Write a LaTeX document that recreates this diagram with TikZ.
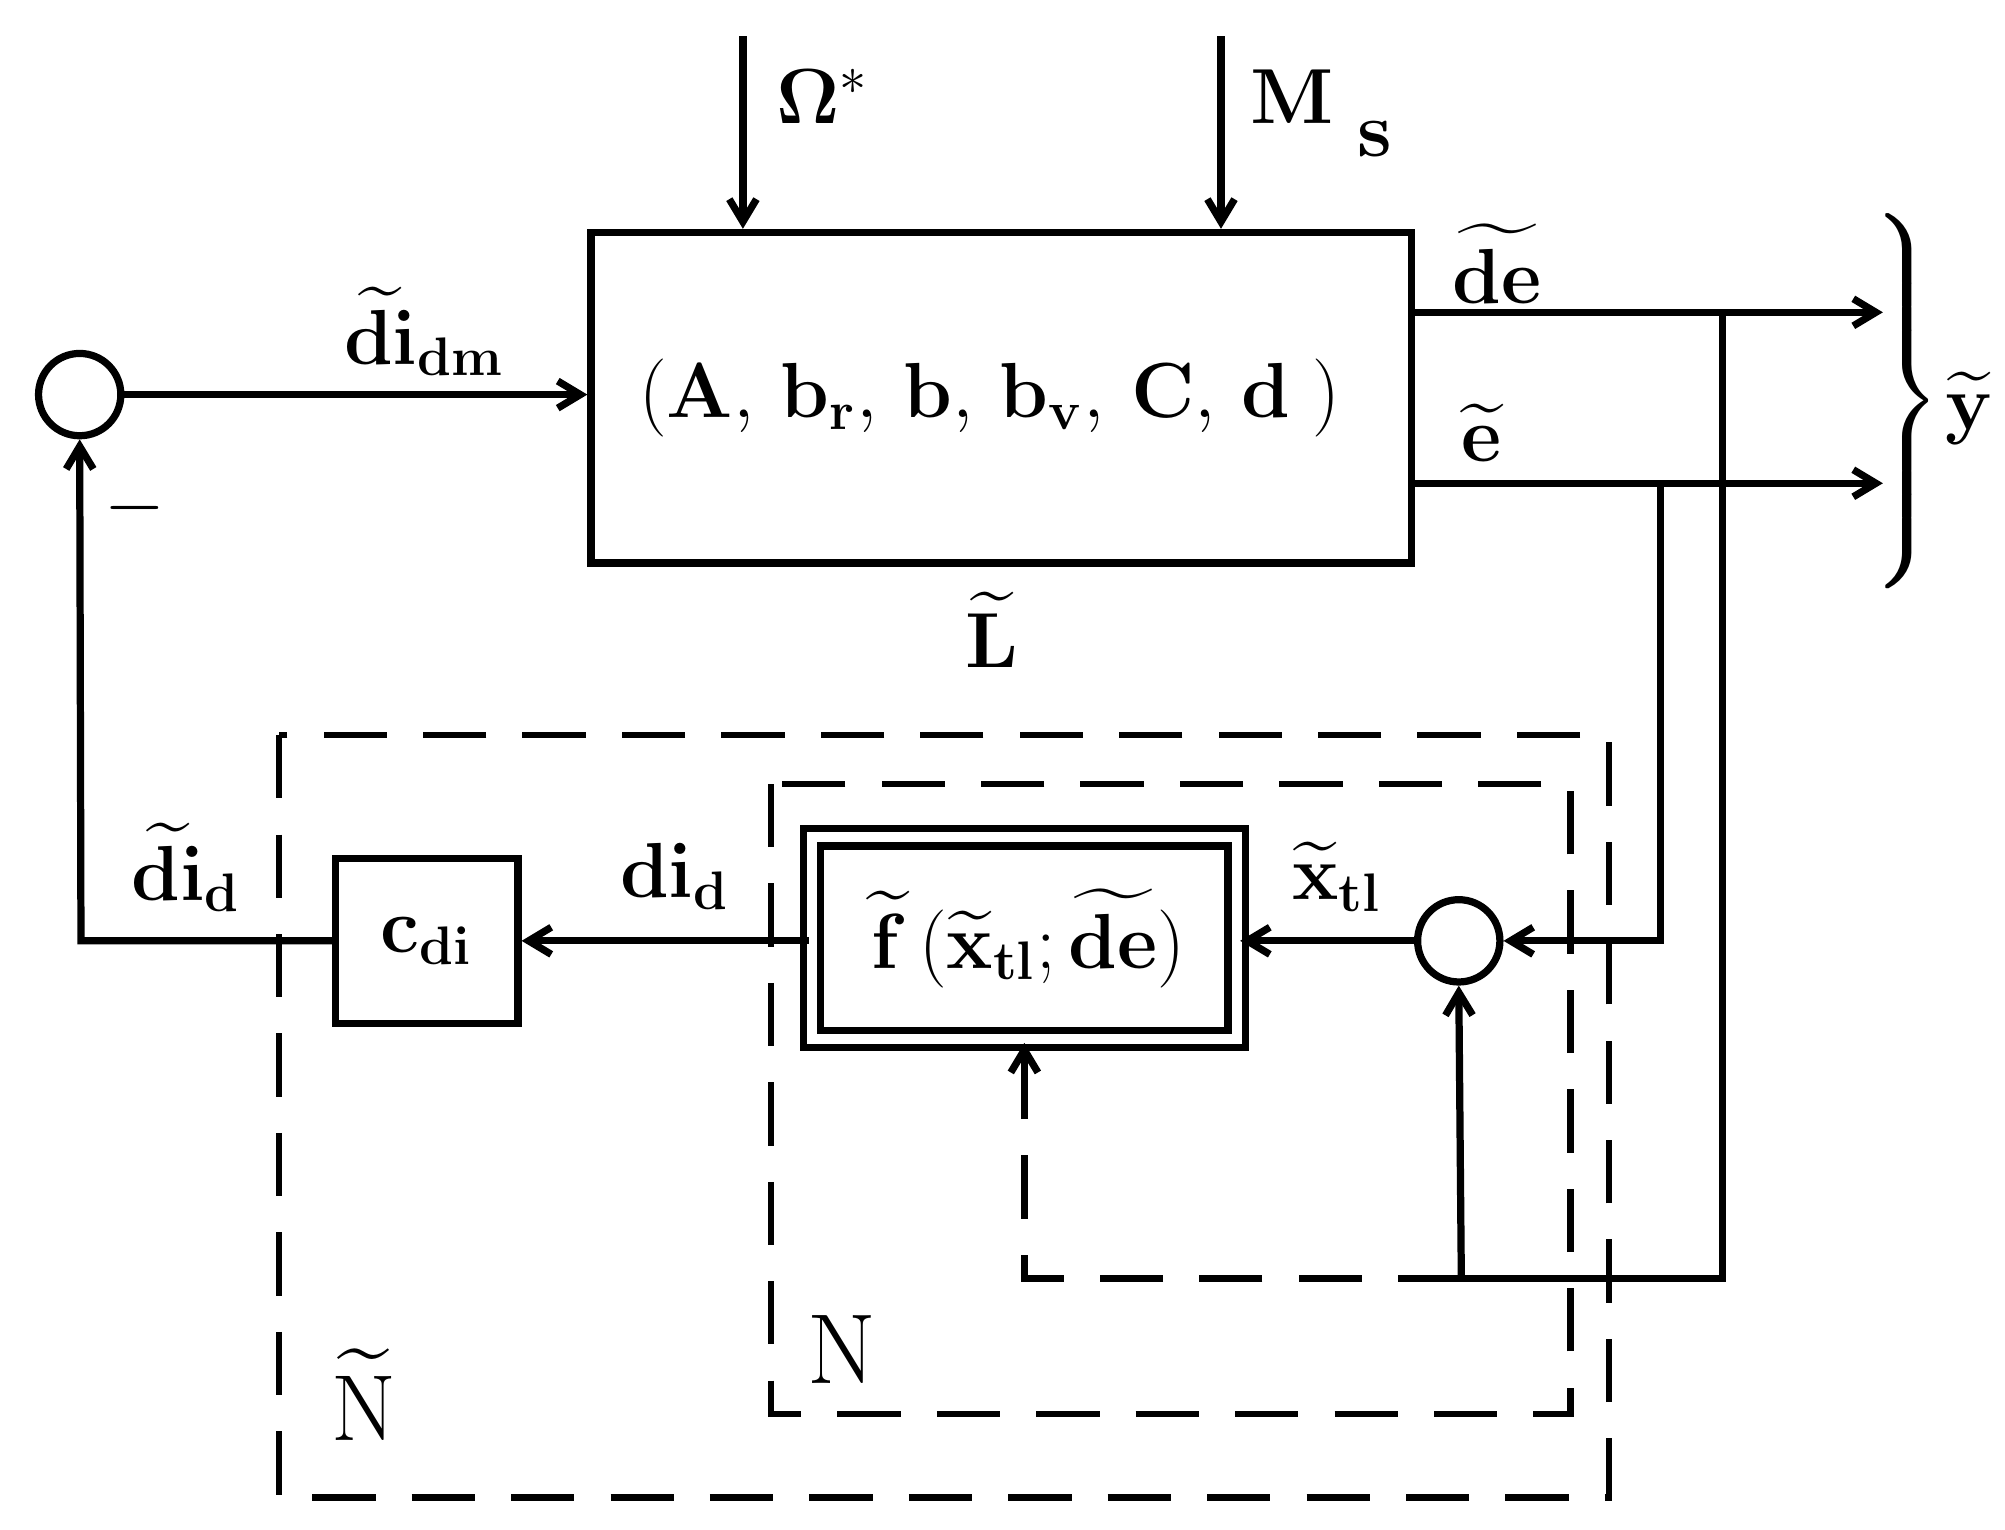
\documentclass[tikz,border=0pt]{standalone}
\usepackage{amsmath}
\usetikzlibrary{arrows.meta}
\begin{document}
\begin{tikzpicture}[x=0.01cm,y=-0.01cm,line width=1.6pt,
  ar/.style={-{Straight Barb[length=5pt,width=6pt]}},
  dsh/.style={dash pattern=on 14pt off 8pt},
  lbl/.style={font=\fontsize{17}{20}\selectfont\bfseries},
  every node/.style={inner sep=0pt}]
\useasboundingbox (0,0) rectangle (1560,1190);
\node[draw,anchor=north west,minimum width=6.38cm,minimum height=2.57cm] (L) at (457,178) {};
\node[lbl] at (770,310) {$(\mathbf{A},\,\mathbf{b_r},\,\mathbf{b},\,\mathbf{b_v},\,\mathbf{C},\,\mathbf{d}\;)$};
\node[lbl] at (772,490) {$\widetilde{\mathbf{L}}$};
\coordinate (om) at (578,28); \coordinate (ms) at (950,28);
\coordinate (omb) at (578,178); \coordinate (msb) at (950,178);
\draw[ar] (om) -- (omb);
\draw[ar] (ms) -- (msb);
\node[lbl] at (640,75) {$\mathbf{\Omega}^{*}$};
\node[lbl] at (1005,75) {$\mathbf{M}$};
\node[lbl] at (1070,108) {$\mathbf{s}$};
\node[draw,circle,minimum size=0.64cm] (c1) at (62,307) {};
\coordinate (Lin) at (457,307);
\draw[ar] (c1) -- (Lin);
\node[lbl] at (330,258) {$\widetilde{\mathbf{di}}_{\mathbf{dm}}$};
\node[lbl] at (105,395) {$-$};
% outputs
\coordinate (de0) at (1100,243); \coordinate (de1) at (1465,243);
\coordinate (e0) at (1100,376); \coordinate (e1) at (1465,376);
\draw[ar] (de0) -- (de1);
\draw[ar] (e0) -- (e1);
\node[lbl] at (1165,205) {$\widetilde{\mathbf{de}}$};
\node[lbl] at (1153,337) {$\widetilde{\mathbf{e}}$};
\node[lbl] at (1482,312) {$\left.\vphantom{\rule{0pt}{1.6cm}}\right\}$};
\node[lbl] at (1532,318) {$\widetilde{\mathbf{y}}$};
% lower
\node[draw,circle,minimum size=0.64cm] (c2) at (1135,732) {};
\node[draw,double,double distance=2.2pt,minimum width=3.3cm,minimum height=1.57cm] (f) at (797,730) {};
\node[lbl] at (800,730) {$\widetilde{\mathbf{f}}\,(\widetilde{\mathbf{x}}_{\mathbf{tl}};\widetilde{\mathbf{de}})$};
\node[draw,minimum width=1.42cm,minimum height=1.28cm,lbl] (c) at (332,732) {$\mathbf{c}_{\mathbf{di}}$};
\coordinate (a1) at (1340,243); \coordinate (a2) at (1340,995); \coordinate (a3) at (1137,995);
\draw (a1) -- (a2) -- (a3);
\draw[ar] (a3) -- (c2.south);
\coordinate (b1) at (1292,376); \coordinate (b2) at (1292,732);
\draw[ar] (b1) -- (b2) -- (c2.east);
\draw[ar] (c2.west) -- (f.east |- c2.west);
\node[lbl] at (1040,682) {$\widetilde{\mathbf{x}}_{\mathbf{tl}}$};
\coordinate (d1) at (797,995); \coordinate (d2) at (797,870);
\draw[dsh] (a3) -- (d1) -- (d2);
\draw[ar] (d2) -- (f.south);
\draw[ar] (f.west |- c.east) -- (c.east);
\node[lbl] at (525,682) {$\mathbf{di}_{\mathbf{d}}$};
\coordinate (g1) at (63,732);
\draw[ar] (c.west) -- (g1) -- (c1.south);
\node[lbl] at (145,675) {$\widetilde{\mathbf{di}}_{\mathbf{d}}$};
\draw[dsh,line width=1.4pt] (217,572) rectangle (1252,1165);
\draw[dsh,line width=1.4pt] (600,610) rectangle (1222,1100);
\node[font=\fontsize{22}{24}\selectfont] at (283,1085) {$\widetilde{\mathrm{N}}$};
\node[font=\fontsize{22}{24}\selectfont] at (655,1050) {N};
\end{tikzpicture}
\end{document}
